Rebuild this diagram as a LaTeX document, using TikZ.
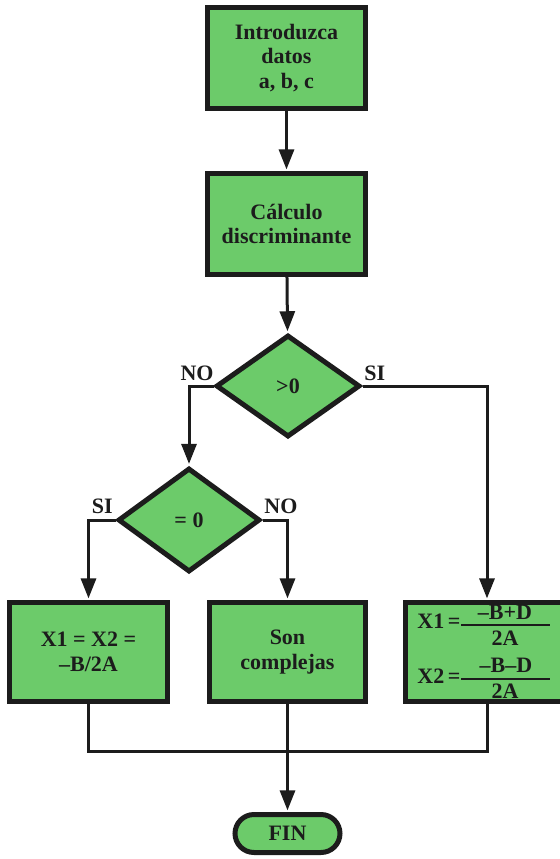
\documentclass[tikz,border=0pt]{standalone}
\usepackage{fontspec}
\setmainfont{Liberation Serif}
\usetikzlibrary{arrows.meta,shapes.geometric}
\definecolor{boxgreen}{RGB}{108,203,106}
\definecolor{ink}{RGB}{28,28,28}

\begin{document}
\begin{tikzpicture}[x=0.5pt,y=-0.5pt,
  font=\bfseries\fontsize{11}{12.2}\selectfont,
  every node/.style={text=ink},
  stepbox/.style={rectangle, draw=ink, line width=2.5pt, fill=boxgreen,
    align=center, inner sep=0pt},
  decision/.style={diamond, draw=ink, line width=2.5pt, fill=boxgreen,
    inner sep=0pt},
  flow/.style={draw=ink, line width=1.5pt},
  arrow/.style={flow, -{Triangle[length=10pt,width=7.5pt]}, shorten >=0.8pt},
  branch/.style={inner sep=0pt},
  fracbar/.style={draw=ink, line width=1pt},
  formula/.style={inner sep=0pt}]

\useasboundingbox (0,0) rectangle (560,859);
\clip (0,0) rectangle (560,859);

% process boxes and decisions
\node[stepbox, minimum width=79pt, minimum height=50.5pt] (input) at (286.5,58)
  {Introduzca\\datos\\a, b, c};
\node[stepbox, minimum width=79pt, minimum height=50.5pt] (disc) at (286.5,224)
  {Cálculo\\discriminante};
\node[decision, minimum width=72pt, minimum height=51pt] (pos) at (288,386) {>0};
\node[decision, minimum width=71pt, minimum height=52pt] (zero) at (189,520) {= 0};
\node[stepbox, minimum width=79pt, minimum height=49.5pt] (double) at (88.5,652)
  {X1 = X2 =\\–B/2A};
\node[stepbox, minimum width=78pt, minimum height=49.5pt] (complex) at (287.5,652)
  {Son\\complejas};
\node[stepbox, minimum width=81.5pt, minimum height=49.5pt] (real) at (487,652) {};
\node[stepbox, rounded corners=9.5pt, minimum width=52.5pt, minimum height=19pt]
  (fin) at (287.5,833.5) {FIN};

% the two real roots
\node[formula, anchor=base west] (x1name) at (417,628) {X1\,=};
\draw[fracbar] (461,625) -- (550,625);
\node[formula, anchor=base] (x1num) at (505,619) {–B+D};
\node[formula, anchor=base] (x1den) at (505,645) {2A};
\node[formula, anchor=base west] (x2name) at (417,683) {X2\,=};
\draw[fracbar] (461,679) -- (550,679);
\node[formula, anchor=base] (x2num) at (506,672) {–B–D};
\node[formula, anchor=base] (x2den) at (505,698) {2A};

% branch labels
\node[branch, anchor=base east] (posno) at (214,380) {NO};
\node[branch, anchor=base west] (possi) at (364,380) {SI};
\node[branch, anchor=base east] (zerosi) at (113,513) {SI};
\node[branch, anchor=base west] (zerono) at (264,513) {NO};

% connectors
\draw[arrow] (input) -- (disc);
\draw[arrow] (disc) -- (pos);
\draw[arrow] (pos.west) -| (zero.north);
\draw[arrow] (pos.east) -| (real.north);
\draw[arrow] (zero.west) -| (double.north);
\draw[arrow] (zero.east) -| (complex.north);
\coordinate (join) at (287.5,751);
\draw[flow] (double.south) |- (join) -| (real.south);
\draw[flow] (complex.south) -- (join);
\draw[arrow] (join) -- (fin.north);
\end{tikzpicture}
\end{document}
